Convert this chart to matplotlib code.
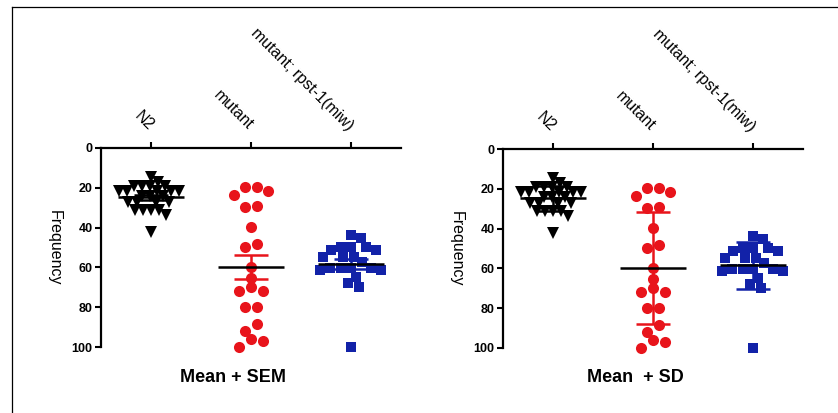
import numpy as np
import matplotlib.pyplot as plt
from matplotlib.lines import Line2D

plt.rcParams["font.family"] = ["Liberation Sans", "DejaVu Sans"]

# =====================================================
# DATA
# =====================================================

categories = ["N2", "mutant", "mutant; rpst-1(miw)"]

n2_values = [14.5, 17.0,
             19.0, 19.0, 19.0, 19.0,
             21.5, 21.5, 21.5, 21.5, 21.5,
             24.0, 24.0, 24.0,
             27.0, 27.0, 27.0, 27.0,
             31.0, 31.0, 31.0, 31.0,
             33.5, 42.0]

mutant_values = [19.8, 19.8, 21.5, 23.6,
                 29.0, 29.8,
                 39.9,
                 48.0, 49.9,
                 59.6, 65.5,
                 69.9, 71.9, 71.9,
                 79.9, 79.9,
                 88.6, 91.9,
                 96.0, 96.9, 100.0]

double_values = [43.7, 45.1,
                 49.6, 49.6, 49.6, 51.3, 51.3,
                 54.6, 54.6, 54.6,
                 57.5,
                 60.2, 60.2, 60.2, 60.2, 61.3, 61.3,
                 64.7,
                 68.0, 69.7,
                 100.0]

y_ticks = [0, 20, 40, 60, 80, 100]

panel_titles = ["Mean + SEM", "Mean  + SD"]


# =====================================================
# STYLE
# =====================================================

groups = [n2_values, mutant_values, double_values]
markers = ["v", "o", "s"]
marker_sizes = [8.5, 8.0, 7.2]
colors = ["black", "#E8141B", "#1222A8"]
layouts = ["swarm", "rows", "swarm"]
spacing_px = [8.2, 11.6, 10.3]

W, H = 838, 413
PX_X = 100.0   # pixels per category
PX_Y = 1.99    # pixels per y unit


def swarm_offsets(values, d):
    # place points one by one as close to the centre as they fit
    vals = sorted(values)
    placed = []
    for v in vals:
        y = v * PX_Y
        cands = [0.0]
        for px_, py_ in placed:
            dy = abs(y - py_)
            if dy < d:
                dx = np.sqrt(d * d - dy * dy)
                cands += [px_ + dx, px_ - dx]
        cands.sort(key=lambda c: (round(abs(c), 3), -c))
        for c in cands:
            if all((c - px_) ** 2 + (y - py_) ** 2 >= d * d - 1e-6
                   for px_, py_ in placed):
                break
        placed.append((c, y))
    xs = np.array([p[0] for p in placed]) / PX_X
    return xs, np.array(vals)


def row_offsets(values, d, tol=4.0):
    # GraphPad-like rows: close values sit side by side, centred
    vals = sorted(values)
    xs, ys = [], []
    i = 0
    while i < len(vals):
        j = i + 1
        while j < len(vals) and vals[j] - vals[i] <= tol:
            j += 1
        row = vals[i:j]
        n = len(row)
        slots = [(k - (n - 1) / 2) * d / PX_X for k in range(n)]
        slots.sort(key=lambda s: (round(abs(s), 6), -s))
        for v, s in zip(row, slots):
            xs.append(s)
            ys.append(v)
        i = j
    return np.array(xs), np.array(ys)


fig = plt.figure(figsize=(W / 100, H / 100), dpi=100)

# frame round the picture
fig.add_artist(Line2D([12 / W, 12 / W], [0, 1 - 7 / H], color="black", lw=0.9))
fig.add_artist(Line2D([12 / W, 1], [1 - 7 / H, 1 - 7 / H], color="black", lw=0.9))

# left px, top px of each panel
panel_pos = [(101, 148), (503, 149)]

for p, (px, py) in enumerate(panel_pos):

    ax = fig.add_axes([px / W, (H - py - 199) / H, 300 / W, 199 / H])

    for i, vals in enumerate(groups):

        if layouts[i] == "rows":
            dx, yy = row_offsets(vals, spacing_px[i])
        else:
            dx, yy = swarm_offsets(vals, spacing_px[i])

        ax.plot(
            i + dx,
            yy,
            linestyle="none",
            marker=markers[i],
            markersize=marker_sizes[i],
            color=colors[i],
            markeredgewidth=0,
            clip_on=False,
            zorder=2
        )

        mean = np.mean(vals)
        sd = np.std(vals, ddof=1)
        err = sd / np.sqrt(len(vals)) if p == 0 else sd

        ax.errorbar(
            i, mean, yerr=err,
            color=colors[i],
            elinewidth=1.8,
            capsize=12,
            capthick=1.8,
            zorder=3
        )

        ax.hlines(mean, i - 0.33, i + 0.33, color="black", lw=1.8, zorder=4)

    ax.set_xlim(-0.5, 2.5)
    ax.set_ylim(100, 0)

    ax.spines["right"].set_visible(False)
    ax.spines["bottom"].set_visible(False)
    ax.spines["top"].set_linewidth(1.6)
    ax.spines["left"].set_linewidth(1.6)

    ax.xaxis.tick_top()
    ax.set_xticks(range(len(categories)))
    ax.set_xticklabels(
        categories,
        rotation=-45,
        ha="right",
        va="center",
        rotation_mode="anchor",
        fontsize=11.5
    )

    ax.set_yticks(y_ticks)
    ax.set_yticklabels([str(t) for t in y_ticks], fontsize=9, fontweight="bold")

    ax.tick_params(axis="x", length=4.5, width=1.5, pad=10)
    ax.tick_params(axis="y", length=4.5, width=1.5, pad=1.5)

    fig.text(
        (px - 47) / W, (H - py - 99.5) / H,
        "Frequency",
        rotation=-90,
        ha="center",
        va="center",
        fontsize=11.5
    )

    fig.text(
        (px + 132) / W, (H - 377) / H,
        panel_titles[p],
        ha="center",
        va="center",
        fontsize=13,
        fontweight="bold"
    )

fig.savefig("out.png", dpi=100)
